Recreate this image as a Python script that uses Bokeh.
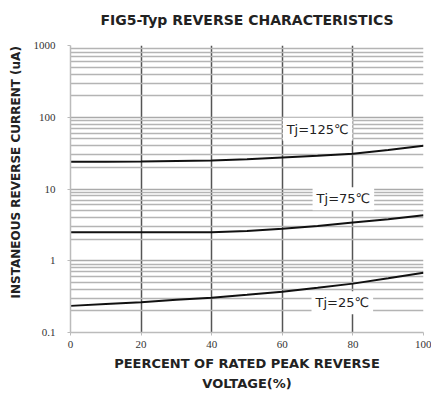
from bokeh.plotting import figure
from bokeh.models import FixedTicker, Label, Title, Range1d
from bokeh.embed import file_html
from bokeh.resources import INLINE

# Data
pct = [0, 10, 20, 30, 40, 50, 60, 70, 80, 90, 100]
tj125 = [24.0, 24.0, 24.2, 24.6, 25.0, 26.0, 27.5, 29.0, 31.0, 35.0, 40.0]
tj75 = [2.5, 2.5, 2.5, 2.5, 2.5, 2.6, 2.8, 3.05, 3.4, 3.8, 4.3]
tj25 = [0.235, 0.25, 0.265, 0.285, 0.305, 0.335, 0.37, 0.42, 0.48, 0.57, 0.68]

x_ticks = [0, 20, 40, 60, 80, 100]
y_ticks = [0.1, 1, 10, 100, 1000]
y_tick_labels = ["0.1", "1", "10", "100", "1000"]
y_minor = [m * d for d in [0.1, 1, 10, 100] for m in range(2, 10)]

curve_labels = ["Tj=125\u2103", "Tj=75\u2103", "Tj=25\u2103"]
label_x = [70.0, 77.3, 77.0]
label_y = [68.0, 7.3, 0.26]

title_text = "FIG5-Typ REVERSE CHARACTERISTICS"
xlabel_lines = ["PEERCENT OF RATED PEAK REVERSE", "VOLTAGE(%)"]

p = figure(width=431, height=390, y_axis_type="log",
           x_range=Range1d(0, 100), y_range=Range1d(0.1, 1000),
           output_backend="svg", toolbar_location=None,
           min_border_left=70, min_border_right=8, min_border_top=45, min_border_bottom=57)
p.outline_line_color = None

p.title.text = title_text + "\n\u00a0"
p.title.align = "center"
p.title.text_font = "DejaVu Sans"
p.title.text_font_size = "14px"
p.title.text_font_style = "bold"
p.title.text_color = "#222222"
p.title.standoff = 4

# grids
p.xgrid.ticker = FixedTicker(ticks=[20, 40, 60, 80, 100])
p.xgrid.grid_line_color = "#555555"
p.xgrid.grid_line_width = 1.5
p.ygrid.ticker = FixedTicker(ticks=y_ticks, minor_ticks=y_minor)
p.ygrid.grid_line_color = "#aaaaaa"
p.ygrid.grid_line_width = 1.5
p.ygrid.minor_grid_line_color = "#b4b4b4"
p.ygrid.minor_grid_line_width = 1.5

# axes
p.xaxis.ticker = FixedTicker(ticks=x_ticks)
p.yaxis.ticker = FixedTicker(ticks=y_ticks)
p.yaxis.major_label_overrides = {t: s for t, s in zip(y_ticks, y_tick_labels)}
for ax in (p.xaxis[0], p.yaxis[0]):
    ax.axis_line_color = "#bbbbbb"
    ax.axis_line_width = 1.5
    ax.major_tick_line_color = "#bbbbbb"
    ax.major_tick_in = 0
    ax.major_tick_out = 3
    ax.minor_tick_line_color = None
    ax.major_label_text_font = "Liberation Serif"
    ax.major_label_text_font_size = "11px"
    ax.major_label_text_color = "#333333"
    ax.axis_label_text_font = "DejaVu Sans"
    ax.axis_label_text_font_style = "bold"
    ax.axis_label_text_color = "#222222"
p.yaxis.major_label_standoff = 12
p.xaxis.major_label_standoff = 5
p.yaxis.axis_label = "\u00a0" * 8 + "INSTANEOUS REVERSE CURRENT (uA)"
p.yaxis.axis_label_text_font_size = "12px"
p.yaxis.axis_label_standoff = 8

p.xaxis.axis_label = xlabel_lines[0]
p.xaxis.axis_label_text_font_size = "13px"
p.xaxis.axis_label_standoff = 5
p.add_layout(Title(text=xlabel_lines[1], align="center",
                   text_font="DejaVu Sans", text_font_size="13px",
                   text_font_style="bold", text_color="#222222", standoff=0), "below")

for ys in (tj125, tj75, tj25):
    p.line(pct, ys, line_color="#111111", line_width=2)

for txt, lx, ly in zip(curve_labels, label_x, label_y):
    p.add_layout(Label(x=lx, y=ly, text=txt, text_align="center", text_baseline="middle",
                       text_font="DejaVu Sans", text_font_size="13px", text_color="#222222",
                       background_fill_color="white", padding=4))

open("out.html", "w").write(file_html(p, INLINE))
